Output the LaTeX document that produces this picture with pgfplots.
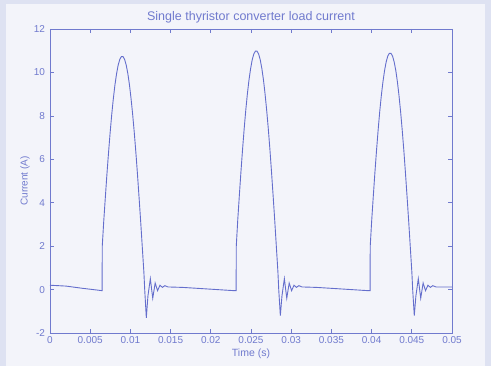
\documentclass[border=0pt]{standalone}
\usepackage{pgfplots}
\pgfplotsset{compat=1.18}
\usepackage{fontspec}
\setmainfont{Liberation Sans}
\definecolor{outerbg}{RGB}{222,226,242}
\definecolor{panelbg}{RGB}{243,244,250}
\definecolor{axiscol}{RGB}{112,122,206}
\definecolor{textcol}{RGB}{112,122,206}
\definecolor{linecol}{RGB}{100,110,204}
\begin{document}
\begin{tikzpicture}
\fill[outerbg] (-50pt,-33pt) rectangle (441pt,333pt);
\fill[panelbg] (-44pt,-33pt) rectangle (435pt,329pt);
\begin{axis}[
  at={(0,0)}, anchor=south west,
  scale only axis, width=402pt, height=304pt,
  xmin=0, xmax=0.05, ymin=-2, ymax=12,
  xtick={0,0.005,0.01,0.015,0.02,0.025,0.03,0.035,0.04,0.045,0.05},
  ytick={-2,0,2,4,6,8,10,12},
  scaled x ticks=false,
  xticklabel style={/pgf/number format/fixed,/pgf/number format/precision=3},
  /pgf/number format/assume math mode=true,
  ticklabel style={font=\fontsize{10}{12}\selectfont, text=textcol},
  axis line style={draw=axiscol, line width=0.9pt},
  tick style={draw=axiscol, line width=0.6pt},
  major tick length=4pt,
  tick align=inside,
  yticklabel style={xshift=-1.5pt},
  title={Single thyristor converter load current},
  title style={at={(axis description cs:0.5,1.02)}, anchor=center, font=\fontsize{12.5}{14}\selectfont, text=textcol},
  xlabel={Time (s)},
  xlabel style={at={(axis description cs:0.5,-0.07)}, anchor=center, font=\fontsize{10.5}{12}\selectfont, text=textcol},
  ylabel={Current (A)},
  every axis y label/.style={at={(axis description cs:-0.0622,0.5)}, rotate=90, anchor=center, font=\fontsize{10}{12}\selectfont, text=textcol},
]
\addplot[linecol, line width=0.9pt] coordinates {
(0,0.2) (0.002,0.16) (0.004,0.06) (0.00648,-0.05)
(0.00650,2.0) (0.00668,3.12) (0.00688,4.23) (0.00708,5.31) (0.00728,6.30) (0.00748,7.23) (0.00768,8.07) (0.00788,8.80) (0.00808,9.43) (0.00828,9.94) (0.00848,10.34) (0.00868,10.60) (0.00888,10.73) (0.00908,10.73) (0.00928,10.60) (0.00948,10.34) (0.00968,9.95) (0.00988,9.44) (0.01008,8.80) (0.01028,8.07) (0.01048,7.24) (0.01068,6.32) (0.01088,5.31) (0.01108,4.23) (0.01128,3.13) (0.01148,1.95) (0.01168,0.78)
(0.01178,0.0) (0.01198,-1.3) (0.01218,-0.3) (0.01248,0.5) (0.01278,-0.4) (0.01308,0.3) (0.01338,-0.05) (0.01368,0.2) (0.01398,0.1) (0.01428,0.18) (0.01468,0.12) (0.01648,0.1) (0.01948,0.03) (0.02288,-0.05) (0.02315,-0.05)
(0.02317,2.0) (0.02335,3.19) (0.02355,4.33) (0.02375,5.43) (0.02395,6.45) (0.02415,7.40) (0.02435,8.26) (0.02455,9.01) (0.02475,9.65) (0.02495,10.17) (0.02515,10.58) (0.02535,10.85) (0.02555,10.98) (0.02575,10.98) (0.02595,10.85) (0.02615,10.58) (0.02635,10.18) (0.02655,9.66) (0.02675,9.01) (0.02695,8.26) (0.02715,7.41) (0.02735,6.47) (0.02755,5.43) (0.02775,4.33) (0.02795,3.20) (0.02815,2.00) (0.02835,0.80)
(0.02845,0.0) (0.02865,-1.2) (0.02885,-0.3) (0.02915,0.5) (0.02945,-0.4) (0.02975,0.3) (0.03005,-0.05) (0.03035,0.2) (0.03065,0.1) (0.03095,0.18) (0.03135,0.12) (0.03315,0.1) (0.03615,0.03) (0.03955,-0.05) (0.03981,-0.05)
(0.03983,2.0) (0.04001,3.16) (0.04021,4.29) (0.04041,5.38) (0.04061,6.39) (0.04081,7.33) (0.04101,8.19) (0.04121,8.93) (0.04141,9.56) (0.04161,10.08) (0.04181,10.48) (0.04201,10.75) (0.04221,10.88) (0.04241,10.88) (0.04261,10.75) (0.04281,10.48) (0.04301,10.09) (0.04321,9.57) (0.04341,8.93) (0.04361,8.19) (0.04381,7.34) (0.04401,6.41) (0.04421,5.38) (0.04441,4.29) (0.04461,3.17) (0.04481,1.98) (0.04501,0.79)
(0.04511,0.0) (0.04531,-1.2) (0.04551,-0.3) (0.04581,0.5) (0.04611,-0.4) (0.04641,0.3) (0.04671,-0.05) (0.04701,0.2) (0.04731,0.1) (0.04761,0.18) (0.04801,0.12) (0.05,0.12)
};
\end{axis}
\end{tikzpicture}
\end{document}
